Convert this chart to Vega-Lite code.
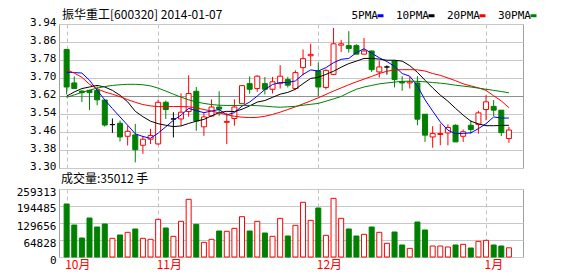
{
  "$schema": "https://vega.github.io/schema/vega-lite/v6.json",
  "background": "#ffffff",
  "padding": {"top": 8, "left": 0, "right": 0, "bottom": 0},
  "spacing": 0,
  "config": {
    "view": {"stroke": "#a0a0a0", "strokeWidth": 1},
    "font": "DejaVu Sans Mono",
    "axis": {
      "labelFont": "DejaVu Sans Mono", "labelFontSize": 11, "labelColor": "#000000",
      "domain": false, "ticks": false, "title": null,
      "labelFlush": false, "labelOverlap": false, "labelBound": false,
      "gridColor": "#c8c8c8", "gridWidth": 1
    },
    "title": {"font": "Noto Sans CJK SC", "fontSize": 12, "fontWeight": "normal", "color": "#000000", "anchor": "start", "frame": "group", "baseline": "bottom"},
    "legend": {"labelFont": "DejaVu Sans Mono", "labelFontSize": 11, "labelColor": "#000000"}
  },
  "datasets": {
    "kline": [
      {"i":0,"o":3.827,"h":3.827,"l":3.627,"c":3.660,"v":202100,"d":"down","ma5":3.726,"ma10":3.619,"ma20":3.737,"ma30":3.614},
      {"i":1,"o":3.678,"h":3.707,"l":3.653,"c":3.653,"v":122000,"d":"down","ma5":3.724,"ma10":3.638,"ma20":3.722,"ma30":3.625},
      {"i":2,"o":3.642,"h":3.645,"l":3.593,"c":3.635,"v":72450,"d":"down","ma5":3.722,"ma10":3.653,"ma20":3.703,"ma30":3.636},
      {"i":3,"o":3.645,"h":3.645,"l":3.558,"c":3.635,"v":148700,"d":"down","ma5":3.690,"ma10":3.660,"ma20":3.672,"ma30":3.646},
      {"i":4,"o":3.645,"h":3.663,"l":3.579,"c":3.603,"v":114400,"d":"down","ma5":3.645,"ma10":3.667,"ma20":3.652,"ma30":3.655},
      {"i":5,"o":3.602,"h":3.605,"l":3.484,"c":3.491,"v":125800,"d":"down","ma5":3.603,"ma10":3.660,"ma20":3.638,"ma30":3.662},
      {"i":6,"o":3.493,"h":3.520,"l":3.456,"c":3.493,"v":71200,"d":"flat","ma5":3.564,"ma10":3.645,"ma20":3.628,"ma30":3.667},
      {"i":7,"o":3.499,"h":3.511,"l":3.418,"c":3.438,"v":83900,"d":"down","ma5":3.527,"ma10":3.623,"ma20":3.617,"ma30":3.670},
      {"i":8,"o":3.441,"h":3.489,"l":3.400,"c":3.463,"v":94100,"d":"up","ma5":3.490,"ma10":3.594,"ma20":3.604,"ma30":3.672},
      {"i":9,"o":3.447,"h":3.496,"l":3.325,"c":3.381,"v":106800,"d":"down","ma5":3.452,"ma10":3.552,"ma20":3.592,"ma30":3.672},
      {"i":10,"o":3.401,"h":3.443,"l":3.363,"c":3.428,"v":71200,"d":"up","ma5":3.440,"ma10":3.528,"ma20":3.582,"ma30":3.670},
      {"i":11,"o":3.428,"h":3.474,"l":3.407,"c":3.444,"v":67400,"d":"up","ma5":3.432,"ma10":3.508,"ma20":3.576,"ma30":3.665},
      {"i":12,"o":3.407,"h":3.604,"l":3.403,"c":3.592,"v":143600,"d":"up","ma5":3.455,"ma10":3.497,"ma20":3.573,"ma30":3.655},
      {"i":13,"o":3.592,"h":3.600,"l":3.518,"c":3.560,"v":110600,"d":"down","ma5":3.483,"ma10":3.490,"ma20":3.573,"ma30":3.642},
      {"i":14,"o":3.518,"h":3.548,"l":3.436,"c":3.518,"v":78800,"d":"flat","ma5":3.512,"ma10":3.484,"ma20":3.573,"ma30":3.628},
      {"i":15,"o":3.518,"h":3.632,"l":3.489,"c":3.548,"v":136000,"d":"up","ma5":3.535,"ma10":3.487,"ma20":3.573,"ma30":3.615},
      {"i":16,"o":3.551,"h":3.712,"l":3.528,"c":3.631,"v":219900,"d":"up","ma5":3.565,"ma10":3.498,"ma20":3.572,"ma30":3.603},
      {"i":17,"o":3.641,"h":3.660,"l":3.465,"c":3.509,"v":124600,"d":"down","ma5":3.555,"ma10":3.508,"ma20":3.567,"ma30":3.594},
      {"i":18,"o":3.483,"h":3.545,"l":3.443,"c":3.527,"v":55900,"d":"up","ma5":3.546,"ma10":3.516,"ma20":3.560,"ma30":3.587},
      {"i":19,"o":3.531,"h":3.605,"l":3.527,"c":3.571,"v":67400,"d":"up","ma5":3.553,"ma10":3.532,"ma20":3.553,"ma30":3.582},
      {"i":20,"o":3.571,"h":3.641,"l":3.532,"c":3.562,"v":99100,"d":"down","ma5":3.560,"ma10":3.546,"ma20":3.545,"ma30":3.579},
      {"i":21,"o":3.503,"h":3.545,"l":3.406,"c":3.507,"v":97900,"d":"up","ma5":3.536,"ma10":3.552,"ma20":3.537,"ma30":3.578},
      {"i":22,"o":3.520,"h":3.605,"l":3.488,"c":3.571,"v":109300,"d":"up","ma5":3.546,"ma10":3.551,"ma20":3.530,"ma30":3.578},
      {"i":23,"o":3.586,"h":3.668,"l":3.584,"c":3.666,"v":153800,"d":"up","ma5":3.575,"ma10":3.561,"ma20":3.526,"ma30":3.578},
      {"i":24,"o":3.675,"h":3.707,"l":3.630,"c":3.650,"v":99100,"d":"down","ma5":3.593,"ma10":3.576,"ma20":3.524,"ma30":3.578},
      {"i":25,"o":3.653,"h":3.712,"l":3.639,"c":3.708,"v":136000,"d":"up","ma5":3.620,"ma10":3.593,"ma20":3.525,"ma30":3.577},
      {"i":26,"o":3.675,"h":3.704,"l":3.627,"c":3.650,"v":91500,"d":"down","ma5":3.649,"ma10":3.600,"ma20":3.530,"ma30":3.575},
      {"i":27,"o":3.650,"h":3.705,"l":3.631,"c":3.683,"v":78800,"d":"up","ma5":3.671,"ma10":3.614,"ma20":3.538,"ma30":3.572},
      {"i":28,"o":3.675,"h":3.757,"l":3.653,"c":3.708,"v":147400,"d":"up","ma5":3.680,"ma10":3.628,"ma20":3.548,"ma30":3.570},
      {"i":29,"o":3.693,"h":3.705,"l":3.658,"c":3.668,"v":80100,"d":"down","ma5":3.680,"ma10":3.636,"ma20":3.560,"ma30":3.572},
      {"i":30,"o":3.653,"h":3.734,"l":3.649,"c":3.724,"v":120800,"d":"up","ma5":3.687,"ma10":3.650,"ma20":3.572,"ma30":3.574},
      {"i":31,"o":3.746,"h":3.827,"l":3.712,"c":3.786,"v":208500,"d":"up","ma5":3.716,"ma10":3.675,"ma20":3.585,"ma30":3.579},
      {"i":32,"o":3.799,"h":3.852,"l":3.753,"c":3.805,"v":139800,"d":"up","ma5":3.736,"ma10":3.698,"ma20":3.598,"ma30":3.583},
      {"i":33,"o":3.731,"h":3.768,"l":3.619,"c":3.660,"v":186900,"d":"down","ma5":3.731,"ma10":3.703,"ma20":3.612,"ma30":3.587},
      {"i":34,"o":3.658,"h":3.738,"l":3.649,"c":3.734,"v":82600,"d":"up","ma5":3.746,"ma10":3.716,"ma20":3.627,"ma30":3.597},
      {"i":35,"o":3.716,"h":3.922,"l":3.713,"c":3.852,"v":223700,"d":"up","ma5":3.768,"ma10":3.730,"ma20":3.642,"ma30":3.607},
      {"i":36,"o":3.846,"h":3.870,"l":3.816,"c":3.852,"v":147400,"d":"up","ma5":3.783,"ma10":3.748,"ma20":3.656,"ma30":3.618},
      {"i":37,"o":3.844,"h":3.908,"l":3.813,"c":3.831,"v":106800,"d":"down","ma5":3.787,"ma10":3.764,"ma20":3.670,"ma30":3.635},
      {"i":38,"o":3.844,"h":3.850,"l":3.806,"c":3.806,"v":80100,"d":"down","ma5":3.813,"ma10":3.775,"ma20":3.683,"ma30":3.650},
      {"i":39,"o":3.806,"h":3.878,"l":3.806,"c":3.820,"v":86400,"d":"up","ma5":3.830,"ma10":3.787,"ma20":3.695,"ma30":3.660},
      {"i":40,"o":3.820,"h":3.823,"l":3.727,"c":3.737,"v":114400,"d":"down","ma5":3.810,"ma10":3.787,"ma20":3.707,"ma30":3.667},
      {"i":41,"o":3.727,"h":3.778,"l":3.702,"c":3.749,"v":94100,"d":"up","ma5":3.790,"ma10":3.784,"ma20":3.720,"ma30":3.674},
      {"i":42,"o":3.749,"h":3.756,"l":3.715,"c":3.749,"v":52100,"d":"flat","ma5":3.773,"ma10":3.779,"ma20":3.730,"ma30":3.678},
      {"i":43,"o":3.776,"h":3.776,"l":3.658,"c":3.693,"v":95300,"d":"down","ma5":3.752,"ma10":3.779,"ma20":3.736,"ma30":3.682},
      {"i":44,"o":3.683,"h":3.708,"l":3.643,"c":3.678,"v":45800,"d":"down","ma5":3.720,"ma10":3.775,"ma20":3.737,"ma30":3.685},
      {"i":45,"o":3.678,"h":3.705,"l":3.653,"c":3.683,"v":33000,"d":"up","ma5":3.708,"ma10":3.755,"ma20":3.737,"ma30":3.686},
      {"i":46,"o":3.678,"h":3.708,"l":3.490,"c":3.517,"v":133500,"d":"down","ma5":3.664,"ma10":3.725,"ma20":3.736,"ma30":3.685},
      {"i":47,"o":3.539,"h":3.540,"l":3.416,"c":3.446,"v":103000,"d":"down","ma5":3.603,"ma10":3.690,"ma20":3.731,"ma30":3.683},
      {"i":48,"o":3.438,"h":3.486,"l":3.390,"c":3.453,"v":41900,"d":"up","ma5":3.553,"ma10":3.656,"ma20":3.720,"ma30":3.680},
      {"i":49,"o":3.449,"h":3.497,"l":3.401,"c":3.453,"v":41900,"d":"up","ma5":3.505,"ma10":3.624,"ma20":3.712,"ma30":3.677},
      {"i":50,"o":3.456,"h":3.494,"l":3.401,"c":3.480,"v":38100,"d":"up","ma5":3.468,"ma10":3.597,"ma20":3.700,"ma30":3.673},
      {"i":51,"o":3.490,"h":3.494,"l":3.416,"c":3.416,"v":45800,"d":"down","ma5":3.452,"ma10":3.565,"ma20":3.688,"ma30":3.668},
      {"i":52,"o":3.441,"h":3.471,"l":3.416,"c":3.461,"v":48300,"d":"up","ma5":3.454,"ma10":3.535,"ma20":3.674,"ma30":3.664},
      {"i":53,"o":3.490,"h":3.512,"l":3.453,"c":3.471,"v":34300,"d":"down","ma5":3.456,"ma10":3.508,"ma20":3.665,"ma30":3.660},
      {"i":54,"o":3.494,"h":3.554,"l":3.453,"c":3.545,"v":59700,"d":"up","ma5":3.475,"ma10":3.496,"ma20":3.656,"ma30":3.655},
      {"i":55,"o":3.560,"h":3.623,"l":3.512,"c":3.594,"v":63600,"d":"up","ma5":3.497,"ma10":3.488,"ma20":3.645,"ma30":3.650},
      {"i":56,"o":3.574,"h":3.602,"l":3.531,"c":3.557,"v":45800,"d":"down","ma5":3.527,"ma10":3.488,"ma20":3.621,"ma30":3.645},
      {"i":57,"o":3.557,"h":3.557,"l":3.442,"c":3.457,"v":41900,"d":"down","ma5":3.522,"ma10":3.489,"ma20":3.598,"ma30":3.640},
      {"i":58,"o":3.431,"h":3.483,"l":3.412,"c":3.469,"v":35012,"d":"up","ma5":3.522,"ma10":3.490,"ma20":3.568,"ma30":3.634}
    ]
  },
  "data": {"name": "kline"},
  "resolve": {"scale": {"x": "independent", "y": "independent"}},
  "vconcat": [
    {
      "width": 464,
      "height": 144,
      "title": {"text": "振华重工[600320] 2014-01-07", "dx": 3, "offset": -6},
      "layer": [
        {
          "mark": {"type": "rule", "strokeWidth": 1},
          "encoding": {
            "x": {"field": "i", "type": "quantitative",
                  "scale": {"domain": [-0.346, 59.19], "nice": false, "zero": false},
                  "axis": {"values": [0, 12, 33, 55], "tickCount": 20, "labels": false, "grid": true, "gridDash": [4, 3], "gridColor": "#c0c0c0", "minExtent": 0, "maxExtent": 0}},
            "y": {"field": "l", "type": "quantitative",
                  "scale": {"domain": [3.30, 3.94], "nice": false, "zero": false},
                  "axis": {"values": [3.30, 3.38, 3.46, 3.54, 3.62, 3.70, 3.78, 3.86, 3.94], "tickCount": 20, "format": ".2f", "grid": true,
                           "labelOverlap": false, "labelBound": false, "labelFlush": false,
                           "gridColor": {"condition": {"test": "abs(datum.value - 3.62) < 0.001", "value": "#909090"}, "value": "#c8c8c8"},
                           "labelPadding": 3, "minExtent": 58, "maxExtent": 58, "labelBaseline": "middle", "labelOffset": -2}},
            "y2": {"field": "h"},
            "stroke": {"condition": [{"test": "datum.d == 'up'", "value": "#ff0000"}, {"test": "datum.d == 'down'", "value": "#008000"}], "value": "#000000"}
          }
        },
        {
          "mark": {"type": "bar", "width": 5, "strokeWidth": 1},
          "encoding": {
            "x": {"field": "i", "type": "quantitative"},
            "y": {"field": "o", "type": "quantitative"},
            "y2": {"field": "c"},
            "fill": {"condition": [{"test": "datum.d == 'up'", "value": "#ffffff"}, {"test": "datum.d == 'down'", "value": "#008000"}], "value": "#000000"},
            "stroke": {"condition": [{"test": "datum.d == 'up'", "value": "#ff0000"}, {"test": "datum.d == 'down'", "value": "#008000"}], "value": "#000000"}
          }
        },
        {
          "transform": [{"fold": ["ma5", "ma10", "ma20", "ma30"], "as": ["key", "val"]}],
          "mark": {"type": "line", "strokeWidth": 1},
          "encoding": {
            "x": {"field": "i", "type": "quantitative"},
            "y": {"field": "val", "type": "quantitative"},
            "color": {"field": "key", "type": "nominal",
                      "scale": {"domain": ["ma5", "ma10", "ma20", "ma30"], "range": ["#0000ff", "#000000", "#ff0000", "#008000"]},
                      "legend": {"orient": "none", "legendX": 282, "legendY": -14, "direction": "horizontal", "title": null,
                                 "labelExpr": "replace(datum.label, 'ma', '') + 'PMA'",
                                 "symbolType": "stroke", "symbolStrokeWidth": 3, "symbolSize": 36,
                                 "labelAlign": "right", "labelOffset": -8, "symbolOffset": 34,
                                 "columnPadding": 2}}
          }
        }
      ]
    },
    {
      "width": 464,
      "height": 68,
      "title": {"text": "成交量:35012 手", "dx": 2, "offset": 0},
      "mark": {"type": "bar", "width": 5, "strokeWidth": 1},
      "encoding": {
        "x": {"field": "i", "type": "quantitative",
              "scale": {"domain": [-0.346, 59.19], "nice": false, "zero": false},
              "axis": {"values": [0, 12, 33, 55], "tickCount": 20,
                       "labelExpr": "datum.value == 0 ? '10月' : datum.value == 12 ? '11月' : datum.value == 33 ? '12月' : '1月'",
                       "labelColor": "#ff0000", "labelFont": "Noto Sans CJK SC", "labelFontSize": 12,
                       "labelAlign": "left", "labelOffset": -2, "labelPadding": 2,
                       "grid": true, "gridDash": [4, 3], "gridColor": "#c0c0c0"}},
        "y": {"field": "v", "type": "quantitative",
              "scale": {"domain": [0, 259313], "nice": false},
              "axis": {"values": [0, 64828, 129656, 194485, 259313], "tickCount": 20, "format": "d", "grid": true,
                       "labelOverlap": false, "labelBound": false, "labelFlush": false,
                       "labelPadding": 3, "minExtent": 58, "maxExtent": 58, "labelBaseline": "middle", "labelOffset": 3}},
        "fill": {"condition": {"test": "datum.d == 'down'", "value": "#008000"}, "value": "#ffffff"},
        "stroke": {"condition": {"test": "datum.d == 'down'", "value": "#008000"}, "value": "#ff0000"}
      }
    }
  ]
}
